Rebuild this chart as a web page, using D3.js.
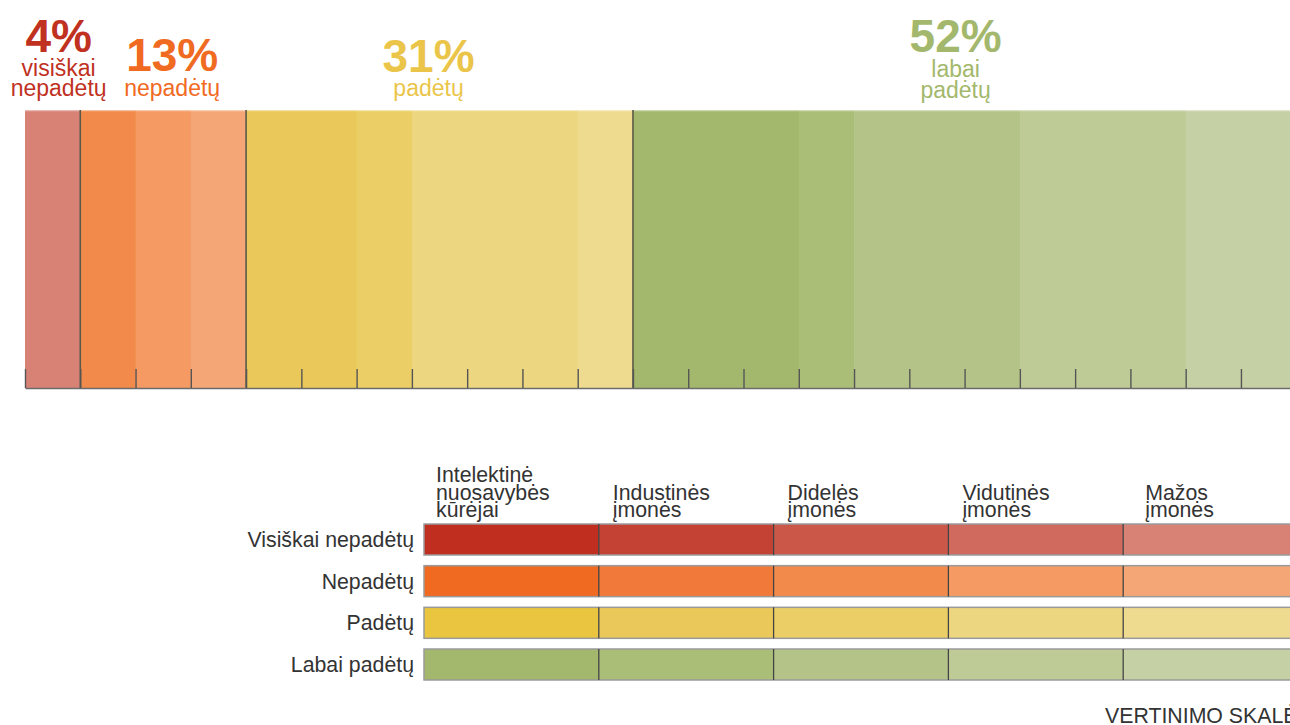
<!DOCTYPE html>
<html>
<head>
<meta charset="utf-8">
<script src="https://cdn.jsdelivr.net/npm/d3@7"></script>
<style>
  html, body { margin: 0; padding: 0; background: #fff; overflow: hidden; }
  svg { display: block; font-family: "Liberation Sans", Arial, sans-serif; }
</style>
</head>
<body>
<svg id="chart" width="1290" height="725"></svg>
<script>
// ---------- DATA ----------
const groups = ["Visiškai nepadėtų", "Nepadėtų", "Padėtų", "Labai padėtų"];
const groupShort = [["visiškai", "nepadėtų"], ["nepadėtų"], ["padėtų"], ["labai", "padėtų"]];
const percentLabels = ["4%", "13%", "31%", "52%"];
const types = ["Intelektinė nuosavybės kūrėjai", "Industinės įmonės", "Didelės įmonės", "Vidutinės įmonės", "Mažos įmonės"];
const typeLabelLines = [["Intelektinė", "nuosavybės", "kūrėjai"], ["Industinės", "įmonės"], ["Didelės", "įmonės"], ["Vidutinės", "įmonės"], ["Mažos", "įmonės"]];
// number of answers (units) per type inside each group
const countsVisiskaiNepadetu = [0, 0, 0, 0, 1];
const countsNepadetu        = [0, 0, 1, 1, 1];
const countsPadetu          = [0, 2, 1, 3, 1];
const countsLabaiPadetu     = [3, 1, 3, 3, 2];
const scaleTitle = "VERTINIMO SKALĖ";

// ---------- STYLE ----------
const colorsVisiskai = ["#bf2e1f", "#c44234", "#cb5748", "#d06a5f", "#d88276"];
const colorsNepadetu = ["#f06a22", "#f17a3a", "#f28a4b", "#f49a62", "#f5a677"];
const colorsPadetu   = ["#e9c540", "#eac859", "#ebcf66", "#edd680", "#eedb8f"];
const colorsLabai    = ["#a3b86c", "#abbe78", "#b4c489", "#bfcb97", "#c6d0a5"];
const groupTextColors = ["#c0311f", "#f06a22", "#eac54a", "#a3b86c"];

const allCounts = [countsVisiskaiNepadetu, countsNepadetu, countsPadetu, countsLabaiPadetu];
const allColors = [colorsVisiskai, colorsNepadetu, colorsPadetu, colorsLabai];

const svg = d3.select("#chart");

// ---------- TOP STACKED BAR ----------
const total = d3.sum(allCounts, c => d3.sum(c));
const unit = 55.27;
const x = d3.scaleLinear().domain([0, total]).range([25, 25 + total * unit]);
const barTop = 110, barBottom = 388;

const segments = [];
const groupBounds = [];
let acc = 0;
allCounts.forEach((counts, gi) => {
  const start = acc;
  counts.forEach((c, ti) => {
    if (c > 0) {
      segments.push({ g: gi, t: ti, x0: acc, x1: acc + c, color: allColors[gi][ti] });
      acc += c;
    }
  });
  groupBounds.push({ g: gi, x0: start, x1: acc });
});

const topG = svg.append("g");
topG.selectAll("rect.seg").data(segments).join("rect")
  .attr("class", "seg")
  .attr("x", d => x(d.x0))
  .attr("y", barTop)
  .attr("width", d => x(d.x1) - x(d.x0) + 0.5)
  .attr("height", barBottom - barTop)
  .attr("fill", d => d.color);

topG.append("line")
  .attr("x1", x(0)).attr("x2", x(total))
  .attr("y1", barTop + 0.5).attr("y2", barTop + 0.5)
  .attr("stroke", "#fff").attr("stroke-opacity", 0.45).attr("stroke-width", 1.5);

topG.selectAll("line.div").data(groupBounds.slice(1)).join("line")
  .attr("class", "div")
  .attr("x1", d => x(d.x0)).attr("x2", d => x(d.x0))
  .attr("y1", barTop).attr("y2", barBottom)
  .attr("stroke", "#5a5a4a").attr("stroke-width", 1.6);

const axis = d3.axisBottom(x)
  .tickValues(d3.range(0, total + 1))
  .tickSizeInner(-19)
  .tickSizeOuter(0)
  .tickFormat("");
const ax = svg.append("g").attr("transform", `translate(0,${barBottom})`).call(axis);
ax.select(".domain").attr("stroke", "#6b6b6b").attr("stroke-width", 1.6);
ax.selectAll(".tick line").attr("stroke", "#555").attr("stroke-width", 1.4);

const labelDx = [6, 9, -11, -9];
const pctBaseline = [52, 71, 72, 52];
const subBaselines = [[76, 96], [96], [96], [77, 98]];
groupBounds.forEach((gb, gi) => {
  const cx = x((gb.x0 + gb.x1) / 2) + labelDx[gi];
  svg.append("text")
    .attr("x", cx).attr("y", pctBaseline[gi])
    .attr("text-anchor", "middle")
    .attr("font-size", 46).attr("font-weight", "bold")
    .attr("fill", groupTextColors[gi])
    .text(percentLabels[gi]);
  groupShort[gi].forEach((line, li) => {
    svg.append("text")
      .attr("x", cx).attr("y", subBaselines[gi][li])
      .attr("text-anchor", "middle")
      .attr("font-size", 23)
      .attr("fill", groupTextColors[gi])
      .text(line);
  });
});

// ---------- LEGEND MATRIX ----------
const colW = 174.8;
const xc = d3.scaleBand().domain(types).range([424, 424 + types.length * colW]);
const yr = d3.scaleBand().domain(groups).range([524, 680]).paddingInner(0.256);

const leg = svg.append("g");
groups.forEach((g, gi) => {
  const row = leg.append("g");
  row.selectAll("rect").data(types).join("rect")
    .attr("x", t => xc(t))
    .attr("y", yr(g))
    .attr("width", xc.bandwidth())
    .attr("height", yr.bandwidth())
    .attr("fill", (t, ti) => allColors[gi][ti]);
  row.append("rect")
    .attr("x", xc.range()[0]).attr("y", yr(g))
    .attr("width", xc.range()[1] - xc.range()[0]).attr("height", yr.bandwidth())
    .attr("fill", "none").attr("stroke", "#9a9a9a").attr("stroke-width", 1.5);
  row.selectAll("line").data(types.slice(1)).join("line")
    .attr("x1", t => xc(t)).attr("x2", t => xc(t))
    .attr("y1", yr(g)).attr("y2", yr(g) + yr.bandwidth())
    .attr("stroke", "#444").attr("stroke-width", 1.3);
  leg.append("text")
    .attr("x", 414).attr("y", yr(g) + yr.bandwidth() / 2 + 7.5)
    .attr("text-anchor", "end")
    .attr("font-size", 21.3)
    .attr("fill", "#333")
    .text(g);
});

const headerDx = [12, 14, 14, 14, 22];
types.forEach((t, ti) => {
  const lines = typeLabelLines[ti];
  const lastBaseline = 517;
  lines.forEach((line, li) => {
    leg.append("text")
      .attr("x", xc(t) + headerDx[ti])
      .attr("y", lastBaseline - (lines.length - 1 - li) * 17.5)
      .attr("font-size", 21.3)
      .attr("fill", "#333")
      .text(line);
  });
});

svg.append("text")
  .attr("x", 1105).attr("y", 723)
  .attr("font-size", 21.3)
  .attr("fill", "#333")
  .text(scaleTitle);
</script>
</body>
</html>
